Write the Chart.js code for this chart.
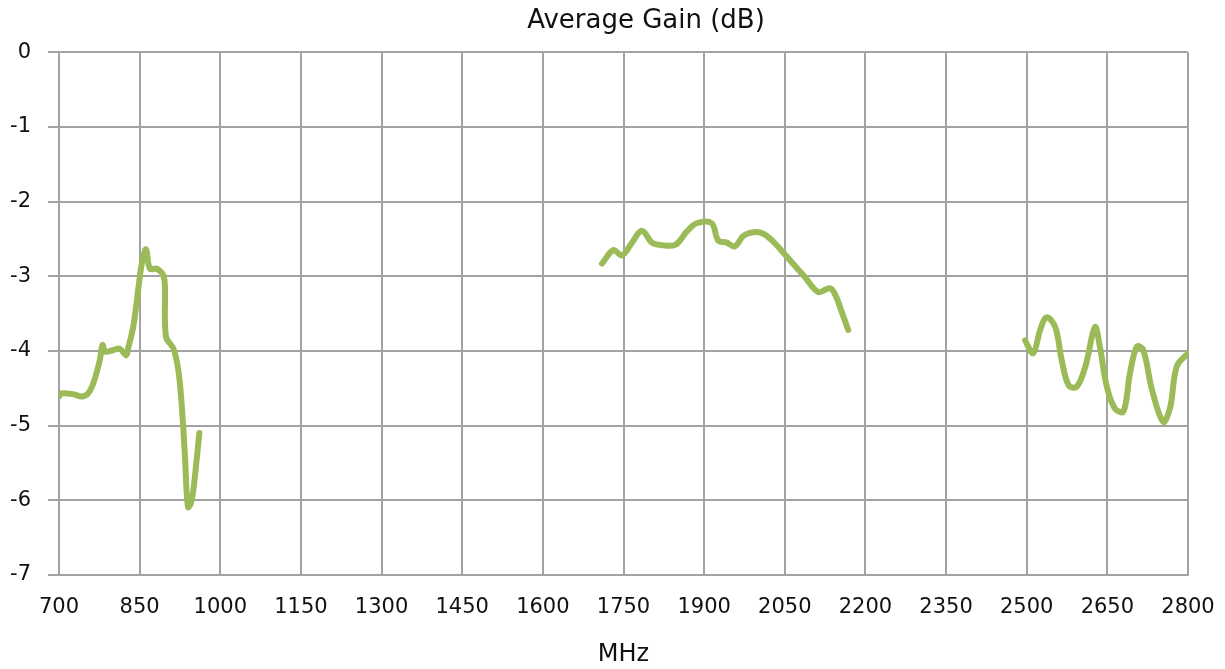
<!DOCTYPE html>
<html>
<head>
<meta charset="utf-8">
<script src="https://cdn.jsdelivr.net/npm/chart.js@4.4.1/dist/chart.umd.min.js"></script>
<style>
html,body{margin:0;padding:0;background:#fff;}
#wrap{width:1225px;height:669px;}
</style>
</head>
<body>
<div id="wrap"><canvas id="c" width="1225" height="669"></canvas></div>
<script>
const titleText = "Average Gain (dB)";
const xTitle = "MHz";
const xTicks = [700,850,1000,1150,1300,1450,1600,1750,1900,2050,2200,2350,2500,2650,2800];
const yTicks = [0,-1,-2,-3,-4,-5,-6,-7];

const freqLow = [700,704,727,742,754,764,776,781,786,800,813,825,829,838,848,854,862,869,882,894,897,899,913,922,928,934,940,947,956,961];
const gainLow = [-4.61,-4.57,-4.58,-4.61,-4.57,-4.43,-4.12,-3.92,-4.01,-3.99,-3.97,-4.06,-3.95,-3.68,-3.14,-2.83,-2.64,-2.90,-2.90,-2.99,-3.14,-3.81,-3.97,-4.26,-4.70,-5.37,-6.09,-6.00,-5.46,-5.10];

const freqMid = [1710,1731,1747,1765,1784,1803,1818,1846,1868,1886,1914,1926,1942,1957,1973,1992,2010,2029,2054,2085,2112,2134,2144,2156,2168];
const gainMid = [-2.83,-2.65,-2.72,-2.56,-2.39,-2.55,-2.58,-2.58,-2.40,-2.29,-2.29,-2.52,-2.55,-2.60,-2.46,-2.41,-2.43,-2.54,-2.74,-2.99,-3.21,-3.16,-3.25,-3.48,-3.72];

const freqHigh = [2497,2512,2525,2537,2553,2565,2578,2593,2609,2627,2636,2649,2664,2680,2692,2705,2717,2733,2754,2767,2779,2800];
const gainHigh = [-3.86,-4.03,-3.72,-3.55,-3.68,-4.12,-4.46,-4.48,-4.21,-3.68,-3.94,-4.48,-4.77,-4.81,-4.30,-3.94,-3.99,-4.52,-4.95,-4.75,-4.21,-4.03];

function pts(xs, ys){ return xs.map((x,i)=>({x:x, y:ys[i]})); }

const lineColor = '#9BBB59';
const gridColor = '#a2a2a2';
const textColor = '#111111';
const fontFamily = "'DejaVu Sans', Verdana, sans-serif";

function ds(xs, ys){
  return {
    data: pts(xs, ys),
    borderColor: lineColor,
    borderWidth: 6,
    pointRadius: 0,
    tension: 0.35,
    fill: false,
    borderCapStyle: 'round',
    borderJoinStyle: 'round'
  };
}

const shiftTitle = {
  id: 'shiftTitle',
  afterLayout(chart) {
    const tb = chart.titleBlock;
    if (tb) {
      const d = 646 - (tb.left + tb.right) / 2;
      tb.left += d; tb.right += d;
    }
  }
};

new Chart(document.getElementById('c'), {
  type: 'line',
  data: { datasets: [ds(freqLow, gainLow), ds(freqMid, gainMid), ds(freqHigh, gainHigh)] },
  plugins: [shiftTitle],
  options: {
    responsive: false,
    animation: false,
    layout: { padding: { left: 0, right: 37, top: 0, bottom: 0 } },
    plugins: {
      legend: { display: false },
      tooltip: { enabled: false },
      title: {
        display: true,
        text: titleText,
        color: textColor,
        font: { family: fontFamily, size: 26, weight: 'normal' },
        padding: { top: 6, bottom: 15 }
      }
    },
    scales: {
      x: {
        type: 'linear',
        min: 700, max: 2800,
        afterBuildTicks: s => { s.ticks = xTicks.map(v => ({value: v})); },
        afterFit: s => { s.height = 94; s.paddingLeft = 0; s.paddingRight = 0; },
        grid: { color: gridColor, lineWidth: 2, drawTicks: false },
        border: { color: gridColor, width: 2 },
        ticks: { color: textColor, font: { family: fontFamily, size: 21 }, padding: 20, maxRotation: 0, autoSkip: false,
                 callback: v => String(v) },
        title: { display: true, text: xTitle, color: textColor, font: { family: fontFamily, size: 24 }, padding: { top: 18, bottom: 0 } }
      },
      y: {
        min: -7, max: 0,
        afterBuildTicks: s => { s.ticks = yTicks.map(v => ({value: v})); },
        afterFit: s => { s.width = 59; },
        grid: { color: gridColor, lineWidth: 2, tickLength: 11 },
        border: { color: gridColor, width: 2 },
        ticks: { color: textColor, font: { family: fontFamily, size: 21 }, padding: 17, callback: v => String(v) }
      }
    }
  }
});
</script>
</body>
</html>
